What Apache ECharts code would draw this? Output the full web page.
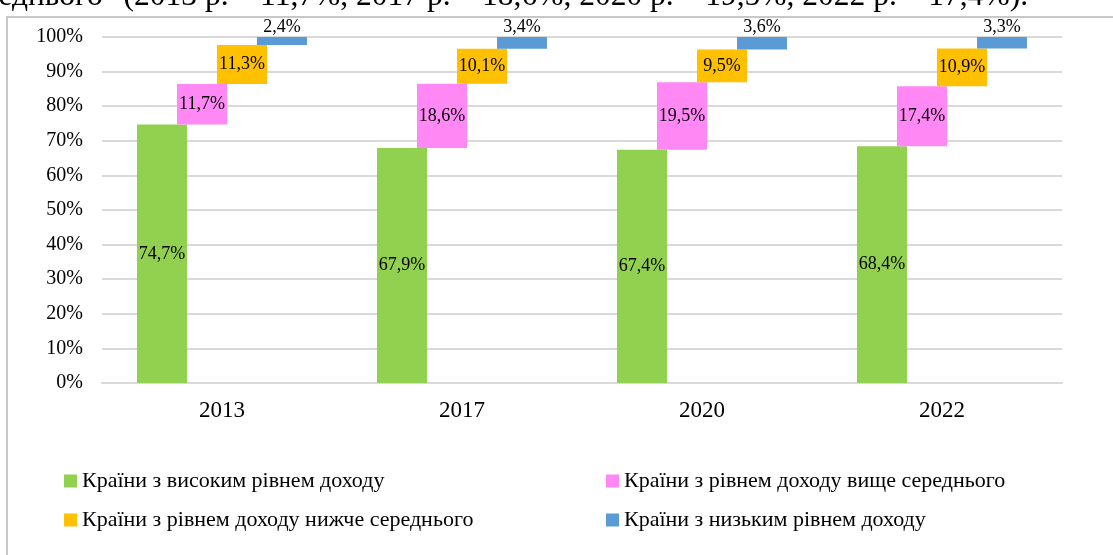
<!DOCTYPE html>
<html lang="uk">
  <head>
    <meta charset="UTF-8" />
    <title>Частка груп країн</title>
    <style>
      html, body {
        margin: 0;
        width: 100%;
        height: 100%;
        background: #fff;
      }
      #chart {
        width: 1113px;
        height: 555px;
      }
    </style>
    <script src="https://cdn.jsdelivr.net/npm/echarts@6/dist/echarts.min.js"></script>
  </head>
  <body>
    <div id="chart"></div>
    <script>
      const years = ['2013', '2017', '2020', '2022']
      const names = [
        'Країни з високим рівнем доходу',
        'Країни з рівнем доходу вище середнього',
        'Країни з рівнем доходу нижче середнього',
        'Країни з низьким рівнем доходу'
      ]
      const high = [74.7, 67.9, 67.4, 68.4]
      const upperMid = [11.7, 18.6, 19.5, 17.4]
      const lowerMid = [11.3, 10.1, 9.5, 10.9]
      const low = [2.4, 3.4, 3.6, 3.3]
      const colors = ['#92D050', '#FF88F5', '#FFC000', '#5B9BD5']
      const yTicks = [0, 10, 20, 30, 40, 50, 60, 70, 80, 90, 100]

      const groups = [high, upperMid, lowerMid, low]
      const font = 'Liberation Serif, Times New Roman, serif'
      const fmt = v => v.toFixed(1).replace('.', ',') + '%'

      // невидима основа для кожної групи = сума попередніх
      const series = []
      groups.forEach((vals, i) => {
        const base = years.map((y, k) => {
          let s = 0
          for (let j = 0; j < i; j++) s += groups[j][k]
          return +s.toFixed(1)
        })
        series.push({
          name: 'base' + i,
          type: 'bar',
          stack: 's' + i,
          barWidth: 50,
          barGap: '-20%',
          itemStyle: { color: 'transparent' },
          silent: true,
          data: base
        })
        series.push({
          name: names[i],
          type: 'bar',
          stack: 's' + i,
          barWidth: 50,
          barGap: '-20%',
          itemStyle: { color: colors[i] },
          label: {
            show: true,
            position: i === 3 ? 'top' : 'inside',
            distance: 1,
            color: '#000',
            fontFamily: font,
            fontSize: 18,
            formatter: p => fmt(p.value)
          },
          data: vals
        })
      })

      const chart = echarts.init(document.getElementById('chart'))
      chart.setOption({
        animation: false,
        color: colors,
        textStyle: { fontFamily: font },
        graphic: [
          {
            type: 'rect',
            shape: { x: 7, y: 17, width: 1130, height: 570 },
            style: { fill: 'none', stroke: '#c8c8c8', lineWidth: 2 },
            silent: true
          },
          {
            type: 'text',
            x: 1028,
            y: 13,
            style: {
              text: 'середнього" (2013 р. – 11,7%, 2017 р. – 18,6%, 2020 р. – 19,5%, 2022 р. – 17,4%).',
              font: '31.5px ' + font,
              fill: '#000',
              align: 'right',
              verticalAlign: 'bottom'
            }
          }
        ],
        grid: { left: 102, right: 51, top: 37, bottom: 172 },
        legend: [
          {
            data: [names[0], names[2]],
            orient: 'vertical',
            left: 59,
            top: 464,
            itemWidth: 13,
            itemHeight: 13,
            itemGap: 15,
            icon: 'rect',
            textStyle: { fontFamily: font, fontSize: 22, color: '#000', lineHeight: 24 }
          },
          {
            data: [names[1], names[3]],
            orient: 'vertical',
            left: 601,
            top: 464,
            itemWidth: 13,
            itemHeight: 13,
            itemGap: 15,
            icon: 'rect',
            textStyle: { fontFamily: font, fontSize: 22, color: '#000', lineHeight: 24 }
          }
        ],
        xAxis: {
          type: 'category',
          data: years,
          axisTick: { show: false },
          axisLine: { lineStyle: { color: '#d9d9d9', width: 2 } },
          axisLabel: { color: '#000', fontFamily: font, fontSize: 23, margin: 16 }
        },
        yAxis: {
          type: 'value',
          min: yTicks[0],
          max: yTicks[yTicks.length - 1],
          interval: yTicks[1] - yTicks[0],
          axisLine: { show: false },
          axisTick: { show: false },
          axisLabel: {
            color: '#000',
            fontFamily: font,
            fontSize: 20,
            margin: 19,
            formatter: '{value}%'
          },
          splitLine: { lineStyle: { color: '#d9d9d9', width: 2 } }
        },
        series
      })
    </script>
  </body>
</html>
